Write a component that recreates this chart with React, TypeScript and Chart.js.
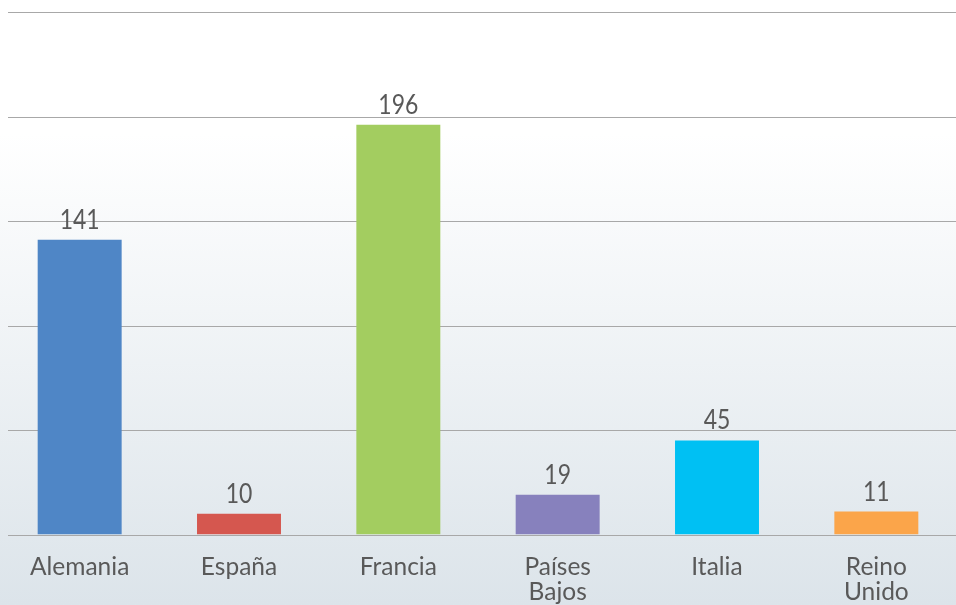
import React, { useEffect, useRef } from "react";
import { Chart, registerables } from "chart.js";

Chart.register(...registerables);

const categories: (string | string[])[] = ["Alemania", "España", "Francia", ["Países", "Bajos"], "Italia", ["Reino", "Unido"]];
const values: number[] = [141, 10, 196, 19, 45, 11];
const barColors: string[] = ["#4f86c6", "#d5574f", "#a3cd60", "#8781bd", "#00c0f3", "#fba54a"];
const gridValues: number[] = [0, 50, 100, 150, 200, 250];

const TEXT_COLOR = "#595959";
const FONT_FAMILY = "Lato, 'Open Sans', sans-serif";

const gridPlugin = {
  id: "customGrid",
  beforeDatasetsDraw(chart: any) {
    const { ctx, chartArea, scales } = chart;
    const y = scales.y;
    ctx.save();
    ctx.strokeStyle = "#a8a8a8";
    ctx.lineWidth = 1.2;
    for (const v of gridValues) {
      const py = Math.round(y.getPixelForValue(v)) + 0.5;
      ctx.beginPath();
      ctx.moveTo(8, py);
      ctx.lineTo(chartArea.right, py);
      ctx.stroke();
    }
    ctx.restore();
  },
};

const valueLabelPlugin = {
  id: "valueLabels",
  afterDatasetsDraw(chart: any) {
    const { ctx } = chart;
    const meta = chart.getDatasetMeta(0);
    meta.data.forEach((bar: any, i: number) => {
      ctx.save();
      ctx.fillStyle = TEXT_COLOR;
      ctx.font = `23px ${FONT_FAMILY}`;
      ctx.textAlign = "center";
      ctx.textBaseline = "alphabetic";
      ctx.translate(bar.x, bar.y - 11);
      ctx.scale(1, 1.15);
      ctx.fillText(String(values[i]), 0, 0);
      ctx.restore();
    });
  },
};

export default function App() {
  const canvasRef = useRef<HTMLCanvasElement | null>(null);

  useEffect(() => {
    if (!canvasRef.current) return;
    const chart = new Chart(canvasRef.current, {
      type: "bar",
      data: {
        labels: categories,
        datasets: [
          {
            data: values,
            backgroundColor: barColors,
            borderWidth: 0,
            categoryPercentage: 1,
            barPercentage: 0.527,
          },
        ],
      },
      options: {
        animation: false,
        responsive: false,
        maintainAspectRatio: false,
        layout: { padding: { top: 12, bottom: -20, left: 0, right: 0 } },
        plugins: {
          legend: { display: false },
          tooltip: { enabled: false },
        },
        scales: {
          x: {
            grid: { display: false, drawTicks: false },
            border: { display: false },
            ticks: {
              color: TEXT_COLOR,
              font: { family: FONT_FAMILY, size: 24.5, lineHeight: 1.03 },
              padding: 20,
              maxRotation: 0,
              autoSkip: false,
            },
          },
          y: {
            display: false,
            min: 0,
            max: 250,
            ticks: { stepSize: 50 },
          },
        },
      },
      plugins: [gridPlugin, valueLabelPlugin],
    });
    return () => chart.destroy();
  }, []);

  return (
    <div
      style={{
        position: "fixed",
        left: 0,
        top: 0,
        width: 956,
        height: 605,
        background: "linear-gradient(to bottom, #ffffff 0%, #ffffff 22%, #dce4ea 100%)",
      }}
    >
      <canvas ref={canvasRef} width={956} height={605} style={{ display: "block" }} />
    </div>
  );
}
